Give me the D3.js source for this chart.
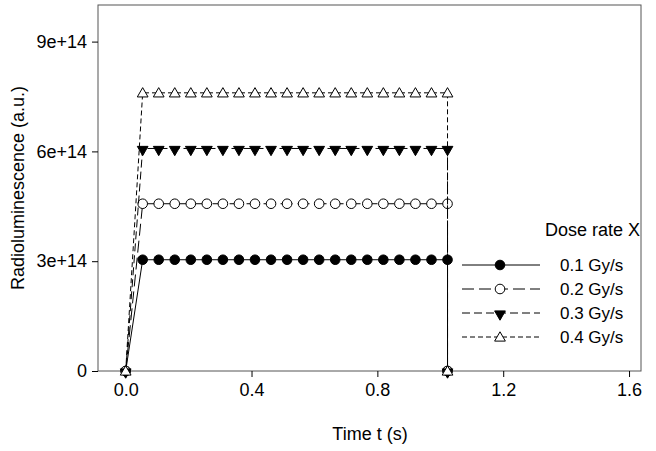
<!DOCTYPE html>
<html><head><meta charset="utf-8">
<script src="https://cdn.jsdelivr.net/npm/d3@7"></script>
<style>body{margin:0;background:#fff}text{font-family:Arial,"Liberation Sans",sans-serif}</style>
</head><body><svg width="656" height="451"></svg>
<script>
var times = [0.054,0.105,0.156,0.207,0.258,0.309,0.360,0.411,0.462,0.513,0.564,0.615,0.666,0.717,0.768,0.819,0.870,0.921,0.972,1.023];
var doseRates = ["0.1 Gy/s","0.2 Gy/s","0.3 Gy/s","0.4 Gy/s"];
var plateau = [3.04e14, 4.57e14, 6.08e14, 7.6e14];
var xTicks = [0.0,0.4,0.8,1.2,1.6];
var yTicks = [0,3e14,6e14,9e14];
var yTickLabels = ["0","3e+14","6e+14","9e+14"];

var svg = d3.select("svg");
var mLeft = 98, mRight = 641, mTop = 5, mBottom = 371;
var x = d3.scaleLinear().domain([-0.088, 1.638]).range([mLeft, mRight]);
var y = d3.scaleLinear().domain([0, 1e15]).range([mBottom, mTop]);

svg.append("rect").attr("x", mLeft).attr("y", mTop).attr("width", mRight-mLeft).attr("height", mBottom-mTop)
  .attr("fill", "none").attr("stroke", "#555").attr("stroke-width", 1);

svg.append("g").attr("transform", "translate(0," + mBottom + ")")
  .call(d3.axisBottom(x).tickValues(xTicks).tickFormat(d3.format(".1f")).tickSizeOuter(0).tickSizeInner(6).tickPadding(6))
  .call(g => g.select(".domain").remove())
  .selectAll("text").attr("font-size", 18).attr("fill", "#000");
svg.append("g").attr("transform", "translate(" + mLeft + ",0)")
  .call(d3.axisLeft(y).tickValues(yTicks).tickFormat((d,i) => yTickLabels[i]).tickSizeOuter(0).tickSizeInner(6).tickPadding(5))
  .call(g => g.select(".domain").remove())
  .selectAll("text").attr("font-size", 18).attr("fill", "#000");

svg.append("text").attr("x", 370).attr("y", 440).attr("text-anchor", "middle").attr("font-size", 18).text("Time t (s)");
svg.append("text").attr("transform", "translate(24,188) rotate(-90)").attr("text-anchor", "middle").attr("font-size", 18).text("Radioluminescence (a.u.)");

var dashes = [null, "12,5", "8,4", "5,3"];
function marker(g, i, cx, cy) {
  if (i < 2) {
    g.append("circle").attr("cx", cx).attr("cy", cy).attr("r", 4.8)
      .attr("fill", i === 0 ? "#000" : "#fff").attr("stroke", "#000").attr("stroke-width", 1);
  } else if (i === 2) {
    g.append("path").attr("d", d3.symbol(d3.symbolTriangle, 50)()).attr("transform", "translate(" + cx + "," + (cy+1) + ") rotate(180)")
      .attr("fill", "#000").attr("stroke", "#000");
  } else {
    g.append("path").attr("d", d3.symbol(d3.symbolTriangle, 50)()).attr("transform", "translate(" + cx + "," + (cy+1) + ")")
      .attr("fill", "#fff").attr("stroke", "#000");
  }
}

var line = d3.line().x(d => x(d[0])).y(d => y(d[1]));
var tEnd = times[times.length - 1];
doseRates.forEach(function (name, i) {
  var pts = [[0, 0]].concat(times.map(t => [t, plateau[i]])).concat([[tEnd, 0]]);
  var g = svg.append("g");
  g.append("path").datum(pts).attr("d", line).attr("fill", "none").attr("stroke", "#000")
    .attr("stroke-width", 1).attr("stroke-dasharray", dashes[i]);
  times.forEach(t => marker(g, i, x(t), y(plateau[i])));
  marker(g, i, x(0), y(0));
  marker(g, i, x(tEnd), y(0));
});

// legend
svg.append("text").attr("x", 640).attr("y", 236).attr("text-anchor", "end").attr("font-size", 18).text("Dose rate X");
doseRates.forEach(function (name, i) {
  var ly = 265 + i * 24;
  var g = svg.append("g");
  g.append("line").attr("x1", 462).attr("x2", 540).attr("y1", ly).attr("y2", ly)
    .attr("stroke", "#000").attr("stroke-dasharray", dashes[i]);
  marker(g, i, 500, ly);
  g.append("text").attr("x", 560).attr("y", ly + 6).attr("font-size", 17).text(name);
});
</script></body></html>
